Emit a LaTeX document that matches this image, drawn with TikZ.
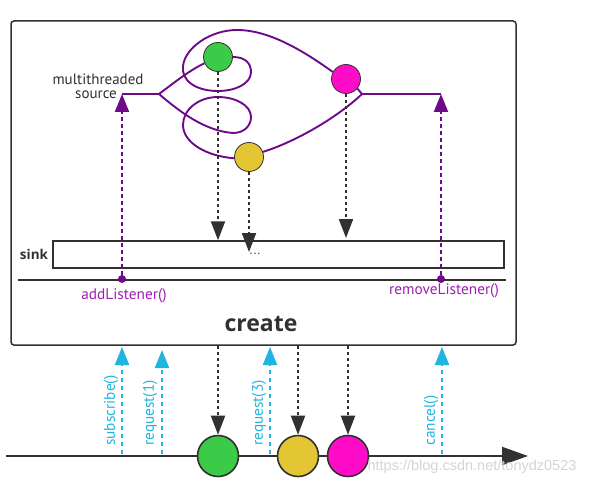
\documentclass[tikz,border=0pt]{standalone}
\usepackage{fontspec}
\setmainfont{PT Sans}
\newfontfamily\osans{Open Sans}
\newfontfamily\wmfont{Liberation Sans}
\usetikzlibrary{arrows.meta}
\definecolor{purp}{HTML}{6E0A8A}
\definecolor{lblpurp}{HTML}{A01DB5}
\definecolor{cyanc}{HTML}{1FB5E0}
\definecolor{dk}{HTML}{333030}
\definecolor{ballg}{HTML}{3CCB48}
\definecolor{bally}{HTML}{E4C635}
\definecolor{ballp}{HTML}{FF0CC8}
\begin{document}
\begin{tikzpicture}[x=1pt,y=-1pt,
  ball/.style={circle,draw=dk,line width=0.8pt,inner sep=0pt,minimum size=29pt},
  bigball/.style={circle,draw=dk,line width=1.6pt,inner sep=0pt,minimum size=41pt},
  knot/.style={draw=purp,line width=1.9pt},
  blkarrow/.style={draw=dk,line width=2pt,dash pattern=on 3pt off 3pt,-{Triangle[length=19pt,width=14pt]}},
  purarrow/.style={draw=purp,line width=2pt,dash pattern=on 4pt off 3pt,-{Triangle[length=18pt,width=14pt]}},
  cyarrow/.style={draw=cyanc,line width=2pt,dash pattern=on 4pt off 4pt,-{Triangle[length=18pt,width=14pt]}},
  pdot/.style={circle,fill=purp,inner sep=0pt,minimum size=8pt},
  plbl/.style={text=lblpurp,font=\fontsize{15.3}{15}\selectfont,inner sep=0pt},
  clbl/.style={text=cyanc,font=\fontsize{15.3}{15}\selectfont,inner sep=0pt,rotate=90,anchor=west},
  srclbl/.style={text=dk,font=\fontsize{15}{15}\selectfont,inner sep=0pt,anchor=base},
  frame/.style={draw=dk,line width=1.5pt}
]
\useasboundingbox (0,0) rectangle (596,486);
% main box
\node[frame,rounded corners=3pt,minimum width=505pt,minimum height=324pt,inner sep=0pt] (main) at (263.5,183) {};
% source
\node[srclbl] (mts1) at (98,85) {multithreaded};
\node[srclbl] (mts2) at (96,99) {source};
\coordinate (srcL) at (122,94);
\coordinate (fork) at (159,94);
\coordinate (merge) at (362,94);
\coordinate (srcR) at (441,94);
% balls in the box
\node[ball,fill=ballg] (gs) at (218,57) {};
\node[ball,fill=ballp] (ps) at (346,79) {};
\node[ball,fill=bally] (ys) at (249,157) {};
% knot
\draw[knot] (srcL) -- (fork);
\draw[knot] (merge) -- (srcR);
\draw[knot] (fork) .. controls (175,82) and (190,70) .. (gs.205);
\draw[knot] (gs.east) .. controls (246,57) and (251,64) .. (251,72)
  .. controls (251,84) and (235,91) .. (218,91)
  .. controls (195,91) and (181,80) .. (183,66)
  .. controls (185,48) and (210,30) .. (237,30)
  .. controls (270,30) and (305,52) .. (ps.152);
\draw[knot] (ps.-40) -- (merge);
\draw[knot] (fork) .. controls (180,112) and (205,131) .. (233,133)
  .. controls (245,133) and (251,125) .. (251,117)
  .. controls (251,105) and (235,97) .. (218,97)
  .. controls (198,97) and (183,110) .. (183,125)
  .. controls (183,142) and (205,156) .. (ys.185);
\draw[knot] (ys.20) .. controls (300,140) and (340,115) .. (merge);
% sink
\node[frame,minimum width=451pt,minimum height=27pt,inner sep=0pt] (sink) at (278.5,254.5) {};
\node[text=dk,font=\osans\bfseries\fontsize{13.5}{13.5}\selectfont,inner sep=0pt] (sinklbl) at (34,254.5) {sink};
\node[text=cyanc!50!dk,font=\fontsize{14}{14}\selectfont,inner sep=0pt] (dots) at (255,254) {...};
\coordinate (ytip) at (249,252);
\draw[blkarrow] (gs.south) -- (gs.south |- sink.north);
\draw[blkarrow] (ys.south) -- (ytip);
\draw[blkarrow] (ps.south) -- (346,238);
% listener line
\coordinate (hl0) at (18,280);
\coordinate (hl1) at (506,280);
\draw[dk,line width=1.5pt] (hl0) -- (hl1);
\node[pdot] (addL) at (122,279) {};
\node[pdot] (remL) at (441,279) {};
\draw[purarrow] (addL) -- (srcL);
\draw[purarrow] (remL) -- (srcR);
\node[plbl] (addLbl) at (124,296) {addListener()};
\node[plbl] (remLbl) at (444,291) {removeListener()};
% create
\node[text=dk,font=\osans\bfseries\fontsize{23}{23}\selectfont,inner sep=0pt] (create) at (261,324) {create};
% timeline
\coordinate (tl0) at (6,456);
\coordinate (tl1) at (528,456);
\draw[dk,line width=2pt,-{Triangle[length=26pt,width=18pt]}] (tl0) -- (tl1);
\node[bigball,fill=ballg] (gb) at (218,456) {};
\node[bigball,fill=bally] (yb) at (298,456) {};
\node[bigball,fill=ballp] (pb) at (348,456) {};
\draw[blkarrow] (gb.north |- main.south) -- (gb.north);
\draw[blkarrow] (yb.north |- main.south) -- (yb.north);
\draw[blkarrow] (pb.north |- main.south) -- (pb.north);
% cyan arrows
\coordinate (c1) at (122,454); \coordinate (c1t) at (122,347);
\coordinate (c2) at (162,454); \coordinate (c2t) at (162,350);
\coordinate (c3) at (270,454); \coordinate (c3t) at (270,347);
\coordinate (c4) at (442,454); \coordinate (c4t) at (442,347);
\draw[cyarrow] (c1) -- (c1t);
\draw[cyarrow] (c2) -- (c2t);
\draw[cyarrow] (c3) -- (c3t);
\draw[cyarrow] (c4) -- (c4t);
\node[clbl] (l1) at (111,446) {subscribe()};
\node[clbl] (l2) at (150,446) {request(1)};
\node[clbl] (l3) at (259,446) {request(3)};
\node[clbl] (l4) at (431,446) {cancel()};
% watermark
\node[text=black!17,font=\wmfont\fontsize{14.5}{14.5}\selectfont,inner sep=0pt] (wm) at (472,467) {https://blog.csdn.net/tonydz0523};
\end{tikzpicture}
\end{document}
